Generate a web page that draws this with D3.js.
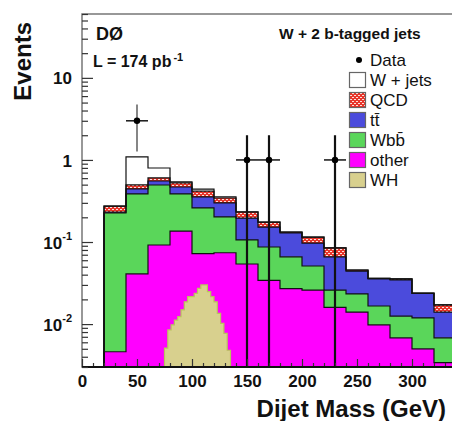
<!DOCTYPE html>
<html>
<head>
<meta charset="utf-8">
<script src="https://cdn.jsdelivr.net/npm/d3@7"></script>
<style>
  body { margin: 0; background: #fff; }
  text { font-family: "Liberation Sans", Arial, Helvetica, sans-serif; }
</style>
</head>
<body>
<svg id="chart"></svg>
<script>
// Histogram bins (20 GeV wide), lower edges in GeV
var binLow = [20, 40, 60, 80, 100, 120, 140, 160, 180, 200, 220, 240, 260, 280, 300, 320];
var binWidth = 20;

// Expected events per bin, one array per process (stacked bottom -> top)
var other = [0.0046, 0.041, 0.092, 0.136, 0.072, 0.074, 0.054, 0.034, 0.027, 0.026, 0.016, 0.014, 0.0098, 0.0068, 0.005, 0.0034];
var wbb   = [0.221, 0.344, 0.403, 0.249, 0.188, 0.128, 0.052, 0.053, 0.039, 0.025, 0.010, 0.0093, 0.0068, 0.0057, 0.0069, 0.0034];
var ttbar = [0.006, 0.058, 0.059, 0.083, 0.094, 0.097, 0.090, 0.065, 0.063, 0.046, 0.040, 0.021, 0.019, 0.022, 0.0117, 0.0072];
var qcd   = [0.042, 0.053, 0.049, 0.056, 0.064, 0.045, 0.036, 0.023, 0.0035, 0.018, 0.019, 0.0013, 0.0005, 0.001, 0.0003, 0.0031];
var wjets = [0, 0.591, 0.195, 0.015, 0.024, 0.010, 0.001, 0, 0, 0, 0, 0, 0, 0, 0, 0];

// WH signal, finer bins (3 GeV), drawn on top (not stacked)
var whLow = [75, 78, 81, 84, 87, 90, 93, 96, 99, 102, 105, 108, 111, 114, 117, 120, 123, 126, 129, 132];
var whWidth = 3;
var whEvents = [0.0051, 0.0085, 0.0098, 0.0112, 0.0123, 0.0149, 0.0187, 0.0216, 0.0216, 0.0237, 0.0273, 0.030, 0.030, 0.0248, 0.0216, 0.0187, 0.0135, 0.0102, 0.0077, 0.0048];

// Data points
var dataMass = [50, 150, 170, 230];
var dataEvents = [3, 1, 1, 1];

// Axis ticks and labels
var xTicks = [0, 50, 100, 150, 200, 250, 300];
var yMajor = [0.01, 0.1, 1, 10];
var yTickBase = ["10", "10", "1", "10"];
var yTickExp = ["-2", "-1", "", ""];

// Legend
var legendLabels = ["Data", "W + jets", "QCD", "tt\u0304", "Wbb\u0304", "other", "WH"];
var legendKeys = ["data", "wjets", "qcd", "ttbar", "wbb", "other", "wh"];

var colors = {
  wjets: "#ffffff",
  qcd: "url(#qcdHatch)",
  ttbar: "#4b4bdc",
  wbb: "#5ad65a",
  other: "#ff00ff",
  wh: "#d8d08e"
};

var W = 452, H = 421;
var yMin = 0.003, yMax = 60;

var svg = d3.select("#chart").attr("width", W).attr("height", H);

// QCD hatch pattern
var defs = svg.append("defs");
var pat = defs.append("pattern")
  .attr("id", "qcdHatch")
  .attr("patternUnits", "userSpaceOnUse")
  .attr("width", 4).attr("height", 4);
pat.append("rect").attr("width", 4).attr("height", 4).attr("fill", "#e8352a");
pat.append("rect").attr("x", 0).attr("y", 1).attr("width", 2).attr("height", 1).attr("fill", "#fde0dc");
pat.append("rect").attr("x", 2).attr("y", 3).attr("width", 2).attr("height", 1).attr("fill", "#fde0dc");

defs.append("clipPath").attr("id", "plotClip")
  .append("rect").attr("x", 82).attr("y", 14).attr("width", 380).attr("height", 353);

// Scales
var x = d3.scaleLinear().domain([0, 340]).range([82, 456]);
var y = d3.scaleLog().domain([yMin, yMax]).range([367, 14]);
function yv(v) { return y(Math.max(v, yMin)); }

// Stack
var keys = ["other", "wbb", "ttbar", "qcd", "wjets"];
var source = { other: other, wbb: wbb, ttbar: ttbar, qcd: qcd, wjets: wjets };
var rows = binLow.map(function(b, i) {
  var r = { low: b };
  keys.forEach(function(k) { r[k] = source[k][i]; });
  return r;
});
var series = d3.stack().keys(keys)(rows);

var plot = svg.append("g").attr("clip-path", "url(#plotClip)");

var area = d3.area()
  .curve(d3.curveStepAfter)
  .x(function(p) { return x(p[0]); })
  .y0(function(p) { return yv(p[1]); })
  .y1(function(p) { return yv(p[2]); });

var topLine = d3.line()
  .curve(d3.curveStepAfter)
  .x(function(p) { return x(p[0]); })
  .y(function(p) { return yv(p[1]); });

function areaPoints(s) {
  var pts = s.map(function(d, i) { return [binLow[i], d[0], d[1]]; });
  var last = s[s.length - 1];
  pts.push([binLow[binLow.length - 1] + binWidth, last[0], last[1]]);
  return pts;
}

function outlinePoints(vals, lows, width) {
  var pts = [[lows[0], 0]];
  vals.forEach(function(v, i) { pts.push([lows[i], v]); });
  pts.push([lows[lows.length - 1] + width, vals[vals.length - 1]]);
  pts.push([lows[lows.length - 1] + width, 0]);
  return pts;
}

// Fills
series.forEach(function(s) {
  plot.append("path")
    .attr("d", area(areaPoints(s)))
    .attr("fill", colors[s.key])
    .attr("stroke", "none");
});

// Outlines of cumulative histograms
series.forEach(function(s) {
  var tops = s.map(function(d) { return d[1]; });
  plot.append("path")
    .attr("d", topLine(outlinePoints(tops, binLow, binWidth)))
    .attr("fill", "none")
    .attr("stroke", "#111")
    .attr("stroke-width", 1.2);
});

// WH signal
var whPts = outlinePoints(whEvents, whLow, whWidth);
plot.append("path")
  .attr("d", topLine(whPts) + "Z")
  .attr("fill", colors.wh)
  .attr("stroke", "#b8c45c")
  .attr("stroke-width", 1.2);

// Data points with error bars
var dataG = svg.append("g").attr("clip-path", "url(#plotClip)");
dataMass.forEach(function(m, i) {
  var n = dataEvents[i], e = Math.sqrt(n);
  dataG.append("line")
    .attr("x1", x(m)).attr("x2", x(m))
    .attr("y1", yv(n + e)).attr("y2", yv(n - e))
    .attr("stroke", i === 0 ? "#444" : "#111")
    .attr("stroke-width", i === 0 ? 1.3 : 2.2);
  dataG.append("line")
    .attr("x1", x(m - binWidth / 2)).attr("x2", x(m + binWidth / 2))
    .attr("y1", yv(n)).attr("y2", yv(n))
    .attr("stroke", "#222")
    .attr("stroke-width", 1.6);
  dataG.append("circle")
    .attr("cx", x(m)).attr("cy", yv(n)).attr("r", 3.2)
    .attr("fill", "#000");
});

// Frame
svg.append("rect")
  .attr("x", 82).attr("y", 14).attr("width", 374).attr("height", 353)
  .attr("fill", "none").attr("stroke", "#777").attr("stroke-width", 1.5);

// X axis
var xMinor = d3.range(0, 341, 10).filter(function(v) { return xTicks.indexOf(v) < 0; });
svg.append("g")
  .attr("transform", "translate(0,367)")
  .call(d3.axisBottom(x).tickValues(xMinor).tickSize(-4).tickSizeOuter(0).tickFormat(""))
  .call(function(g) { g.select(".domain").remove(); });
var xAxis = svg.append("g")
  .attr("transform", "translate(0,367)")
  .call(d3.axisBottom(x).tickValues(xTicks).tickSize(-8).tickSizeOuter(0).tickPadding(8));
xAxis.select(".domain").remove();
xAxis.selectAll(".tick text")
  .attr("font-size", 17).attr("font-weight", "bold").attr("fill", "#111")
  .attr("font-family", "Liberation Sans, Arial, sans-serif");
svg.selectAll(".tick line").attr("stroke", "#222").attr("stroke-width", 1.2);
svg.append("line")
  .attr("x1", 82).attr("x2", 456).attr("y1", 367).attr("y2", 367)
  .attr("stroke", "#111").attr("stroke-width", 2);

// Y axis
var yMinor = y.ticks().filter(function(v) {
  return yMajor.every(function(m) { return Math.abs(v - m) / m > 1e-6; });
});
var yMinorAxis = svg.append("g")
  .attr("transform", "translate(82,0)")
  .call(d3.axisLeft(y).tickValues(yMinor).tickSize(-6).tickSizeOuter(0).tickFormat(""));
yMinorAxis.select(".domain").remove();
var yAxis = svg.append("g")
  .attr("transform", "translate(82,0)")
  .call(d3.axisLeft(y).tickValues(yMajor).tickSize(-11).tickSizeOuter(0).tickPadding(10).tickFormat(""));
yAxis.select(".domain").remove();
svg.selectAll(".tick line").attr("stroke", "#333").attr("stroke-width", 1.2);
yAxis.selectAll(".tick text").each(function(d, i) {
  var t = d3.select(this)
    .attr("font-size", 17).attr("font-weight", "bold").attr("fill", "#111")
    .attr("font-family", "Liberation Sans, Arial, sans-serif")
    .attr("text-anchor", "end")
    .attr("x", -10)
    .attr("dy", "0.36em");
  t.text(yTickBase[i]);
  if (yTickExp[i]) {
    t.append("tspan").attr("font-size", 11).attr("dy", "-0.75em").text(yTickExp[i]);
  }
});

// Axis titles
svg.append("text")
  .attr("x", 446).attr("y", 417)
  .attr("text-anchor", "end")
  .attr("font-size", 24).attr("font-weight", "bold").attr("fill", "#111")
  .text("Dijet Mass (GeV)");
svg.append("text")
  .attr("transform", "translate(31,22) rotate(-90)")
  .attr("text-anchor", "end")
  .attr("font-size", 24).attr("font-weight", "bold").attr("fill", "#111")
  .text("Events");

// Labels
svg.append("text")
  .attr("x", 96).attr("y", 40)
  .attr("font-size", 18).attr("font-weight", "bold").attr("fill", "#111")
  .text("D\u00d8");
var lumi = svg.append("text")
  .attr("x", 93).attr("y", 67)
  .attr("font-size", 16).attr("font-weight", "bold").attr("fill", "#111")
  .text("L = 174 pb");
lumi.append("tspan").attr("font-size", 11).attr("dy", -6).attr("dx", 2).text("-1");

svg.append("text")
  .attr("x", 279).attr("y", 39)
  .attr("font-size", 15.5).attr("font-weight", "bold").attr("fill", "#111")
  .text("W + 2 b-tagged jets");

// Legend
var leg = svg.append("g");
legendKeys.forEach(function(k, i) {
  var cy = 60 + i * 20;
  if (k === "data") {
    leg.append("circle").attr("cx", 359).attr("cy", cy).attr("r", 3).attr("fill", "#000");
  } else {
    leg.append("rect")
      .attr("x", 349.5).attr("y", cy - 7.5).attr("width", 16).attr("height", 15)
      .attr("fill", colors[k]).attr("stroke", "#666").attr("stroke-width", 1.2);
  }
  leg.append("text")
    .attr("x", 370).attr("y", cy + 6)
    .attr("font-size", 17).attr("fill", "#111")
    .text(legendLabels[i]);
});
</script>
</body>
</html>
